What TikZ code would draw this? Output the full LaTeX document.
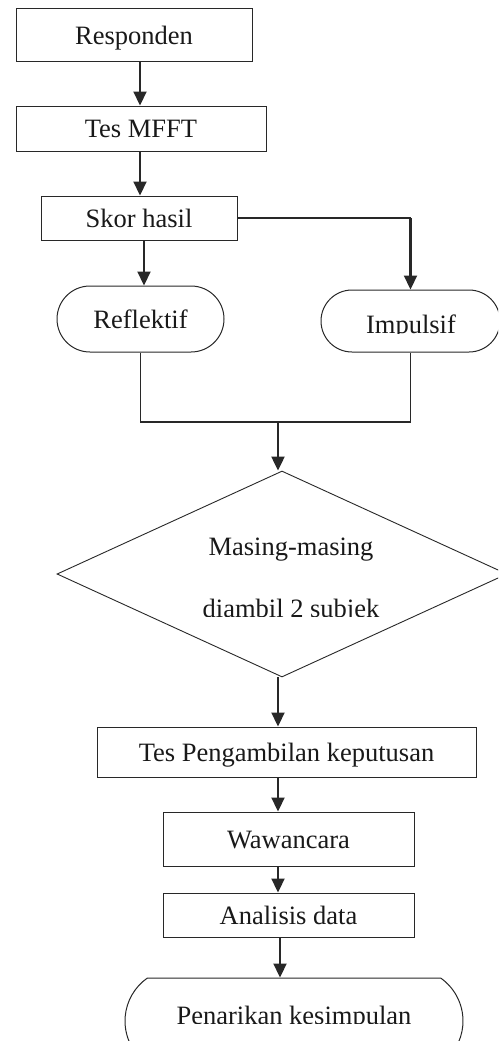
\documentclass[tikz,border=0pt]{standalone}
\usepackage{fontspec}
\setmainfont{Liberation Serif}
\usetikzlibrary{arrows.meta,shapes.geometric,shapes.misc,calc}
\definecolor{linec}{RGB}{40,40,40}
\definecolor{textc}{RGB}{25,25,25}
\begin{document}
\begin{tikzpicture}[x=1pt,y=-1pt,
  font=\fontsize{26.5}{30}\selectfont,
  every node/.style={text=textc},
  box/.style={draw=linec, line width=1pt, rectangle, inner sep=0pt, fill=white,
    text height=18pt, text depth=0pt},
  term/.style={draw=linec, line width=1pt, rounded rectangle, inner sep=0pt, fill=white,
    text height=18pt, text depth=0pt},
  arr/.style={draw=linec, line width=2.2pt, -{Triangle[width=13pt,length=14pt]}},
  joinline/.style={draw=linec, line width=1.6pt}]
\useasboundingbox (0,0) rectangle (498,1041);
\clip (0,0) rectangle (498,1041);
\fill[white] (0,0) rectangle (498,1041);

% columns
\coordinate (c140) at (140,0);
\coordinate (c144) at (144,0);
\coordinate (c278) at (278,0);
\coordinate (c280) at (280,0);

% nodes
\node[box, minimum width=236pt, minimum height=53pt] (resp) at (134,35.5) {Responden};
\node[box, minimum width=250pt, minimum height=45pt] (mfft) at (141,128.5) {Tes MFFT};
\node[box, minimum width=196pt, minimum height=44pt] (skor) at (139,218) {Skor hasil};
\node[term, minimum width=167pt, minimum height=66pt] (refl) at (140.5,319) {Reflektif};
\node[term, minimum width=179pt, minimum height=62pt] (imp) at (410.5,321) {};
\node[draw=linec, line width=0.9pt, diamond, inner sep=0pt, fill=white,
      minimum width=450pt, minimum height=206pt] (dia) at (282,574) {};
\node[box, minimum width=379pt, minimum height=50pt] (tpk) at (286.5,752) {Tes Pengambilan keputusan};
\node[box, minimum width=251pt, minimum height=54pt] (waw) at (288.5,839) {Wawancara};
\node[box, minimum width=251pt, minimum height=44pt] (ana) at (288.5,915) {Analisis data};
\node[term, rounded rectangle arc length=110, minimum width=338pt, minimum height=86pt] (pen) at (294,1021) {};

% clipped texts
\begin{scope}
  \clip (300,290) rectangle (498,333);
  \node[anchor=base] (imptxt) at (411,333) {Impulsif};
\end{scope}
\node[anchor=base] (dtxt1) at (291,555) {Masing-masing};
\begin{scope}
  \clip (100,590) rectangle (480,616);
  \node[anchor=base] (dtxt2) at (291,617) {diambil 2 subjek};
\end{scope}
\begin{scope}
  \clip (130,990) rectangle (460,1023);
  \node[anchor=base] (pentxt) at (294,1024) {Penarikan kesimpulan};
\end{scope}

% connectors
\draw[arr] (resp.south -| c140) -- (mfft.north -| c140);
\draw[arr] (mfft.south -| c140) -- (skor.north -| c140);
\draw[arr] (skor.south -| c144) -- (refl.north -| c144);
\draw[joinline] (skor.east) -- (skor.east -| imp.north);
\draw[arr] (skor.east -| imp.north) -- (imp.north);
\coordinate (jm) at (278,422);
\draw[joinline] (refl.south) -- (refl.south |- jm) -- (imp.south |- jm) -- (imp.south);
\draw[arr] (jm) -- (jm |- dia.north);
\draw[arr] (dia.south -| c278) -- (tpk.north -| c278);
\draw[arr] (tpk.south -| c278) -- (waw.north -| c278);
\draw[arr] (waw.south -| c278) -- (ana.north -| c278);
\draw[arr] (ana.south -| c280) -- (pen.north -| c280);
\end{tikzpicture}
\end{document}
